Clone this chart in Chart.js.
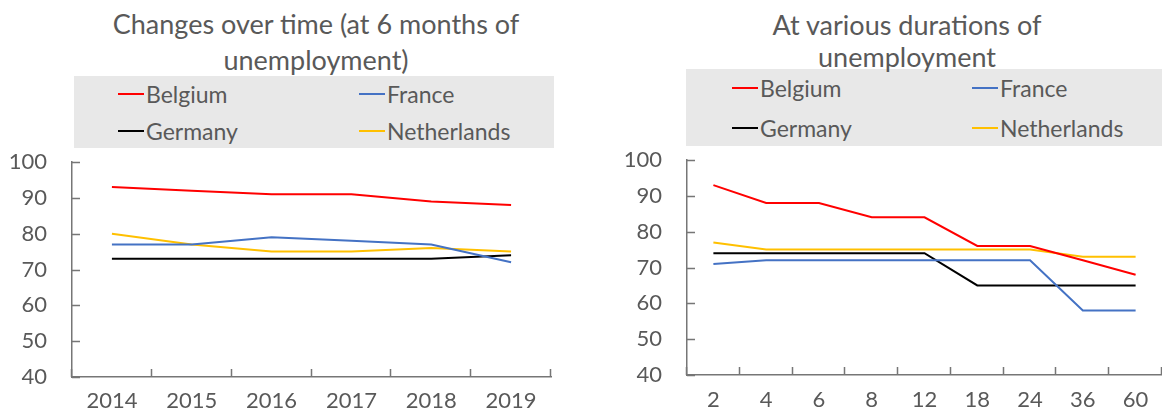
<!DOCTYPE html>
<html>
<head>
<meta charset="utf-8">
<script src="https://cdn.jsdelivr.net/npm/chart.js@4.4.0/dist/chart.umd.min.js"></script>
<style>
body { margin: 0; width: 1162px; height: 414px; position: relative; overflow: hidden; background: #fff; font-family: Lato, sans-serif; color: #595959; }
.title { position: absolute; text-align: center; font-size: 27px; white-space: nowrap; }
.legend { position: absolute; background: #e8e8e8; }
.item { position: absolute; display: flex; align-items: center; font-size: 23px; height: 30px; margin-top: -15px; white-space: nowrap; }
.item i { display: inline-block; width: 26px; height: 2px; margin-right: 2px; }
.box { position: absolute; }
</style>
</head>
<body>
<div class="legend" id="legLeft" style="left:74px;top:76px;width:480px;height:72px"></div>
<div class="legend" id="legRight" style="left:686px;top:69px;width:476px;height:77px"></div>
<div class="title" style="left:66px;top:6px;width:500px;line-height:36px">Changes over time (at 6 months of<br>unemployment)</div>
<div class="title" style="left:657px;top:9px;width:500px;line-height:32px">At various durations of<br>unemployment</div>
<div class="box" style="left:0;top:148px;width:580px;height:266px"><canvas id="chartLeft"></canvas></div>
<div class="box" style="left:580px;top:146px;width:582px;height:268px"><canvas id="chartRight"></canvas></div>
<script>
// series names and colours
const countries = ['Belgium', 'France', 'Germany', 'Netherlands'];
const colors = ['#ff0000', '#4472c4', '#000000', '#ffc000'];

// left panel: at 6 months of unemployment, by year
const years = ['2014', '2015', '2016', '2017', '2018', '2019'];
const belgiumYears = [93, 92, 91, 91, 89, 88];
const franceYears = [77, 77, 79, 78, 77, 72];
const germanyYears = [73, 73, 73, 73, 73, 74];
const netherlandsYears = [80, 77, 75, 75, 76, 75];

// right panel: by duration of unemployment (months)
const durations = ['2', '4', '6', '8', '12', '18', '24', '36', '60'];
const belgiumDur = [93, 88, 88, 84, 84, 76, 76, 72, 68];
const franceDur = [71, 72, 72, 72, 72, 72, 72, 58, 58];
const germanyDur = [74, 74, 74, 74, 74, 65, 65, 65, 65];
const netherlandsDur = [77, 75, 75, 75, 75, 75, 75, 73, 73];

const yTicks = [40, 50, 60, 70, 80, 90, 100];
const axisColor = '#767676';
const textColor = '#595959';

function buildLegend(el, cols, rows) {
    countries.forEach((name, i) => {
        const d = document.createElement('div');
        d.className = 'item';
        d.style.left = cols[i % 2] + 'px';
        d.style.top = rows[Math.floor(i / 2)] + 'px';
        d.innerHTML = '<i style="background:' + colors[i] + '"></i>' + name;
        el.appendChild(d);
    });
}
buildLegend(document.getElementById('legLeft'), [44, 285], [18, 55]);
buildLegend(document.getElementById('legRight'), [46, 286], [19, 59]);

// short tick marks pointing into the plot area
const innerTicks = {
    id: 'innerTicks',
    afterDraw(chart) {
        const {ctx, chartArea} = chart;
        const x = chart.scales.x, y = chart.scales.y;
        ctx.save();
        ctx.strokeStyle = axisColor;
        ctx.lineWidth = 1.5;
        ctx.beginPath();
        y.ticks.forEach(t => {
            const py = Math.round(y.getPixelForValue(t.value)) + 0.5;
            ctx.moveTo(chartArea.left, py);
            ctx.lineTo(chartArea.left + 8, py);
        });
        const n = x.ticks.length;
        for (let i = 0; i <= n; i++) {
            const px = Math.round(x.left + i * (x.right - x.left) / n) - 0.5;
            ctx.moveTo(px, chartArea.bottom);
            ctx.lineTo(px, chartArea.bottom - 8);
        }
        ctx.stroke();
        ctx.restore();
    }
};

function makeChart(id, labels, series, g) {
    return new Chart(document.getElementById(id), {
        type: 'line',
        data: {
            labels: labels,
            datasets: series.map((s, i) => ({
                label: countries[i],
                data: s,
                borderColor: colors[i],
                backgroundColor: colors[i],
                borderWidth: 2,
                pointRadius: 0,
                tension: 0
            }))
        },
        options: {
            responsive: true,
            maintainAspectRatio: false,
            animation: false,
            layout: {padding: {top: g.top, right: g.right, bottom: 0, left: 0}},
            plugins: {legend: {display: false}, title: {display: false}, tooltip: {enabled: false}},
            scales: {
                x: {
                    offset: true,
                    grid: {display: false, drawTicks: false},
                    border: {display: true, color: axisColor, width: 1.5},
                    ticks: {color: textColor, font: {family: 'Lato', size: 22}, padding: g.xPad, maxRotation: 0, autoSkip: false},
                    afterFit: s => { s.height = g.xHeight; s.paddingLeft = 0; s.paddingRight = 0; }
                },
                y: {
                    min: 40, max: 100,
                    afterBuildTicks: s => { s.ticks = yTicks.map(v => ({value: v})); },
                    grid: {display: false, drawTicks: false},
                    border: {display: true, color: axisColor, width: 1.5},
                    ticks: {color: textColor, font: {family: 'Lato', size: 22}, padding: g.yPad},
                    afterFit: s => { s.width = g.yWidth; s.paddingTop = 0; s.paddingBottom = 0; }
                }
            }
        },
        plugins: [innerTicks]
    });
}

makeChart('chartLeft', years, [belgiumYears, franceYears, germanyYears, netherlandsYears],
    {top: 14, right: 29, xHeight: 37, xPad: 11, yWidth: 72, yPad: 25});
makeChart('chartRight', durations, [belgiumDur, franceDur, germanyDur, netherlandsDur],
    {top: 14, right: 0, xHeight: 39, xPad: 12, yWidth: 107, yPad: 25});
</script>
</body>
</html>
